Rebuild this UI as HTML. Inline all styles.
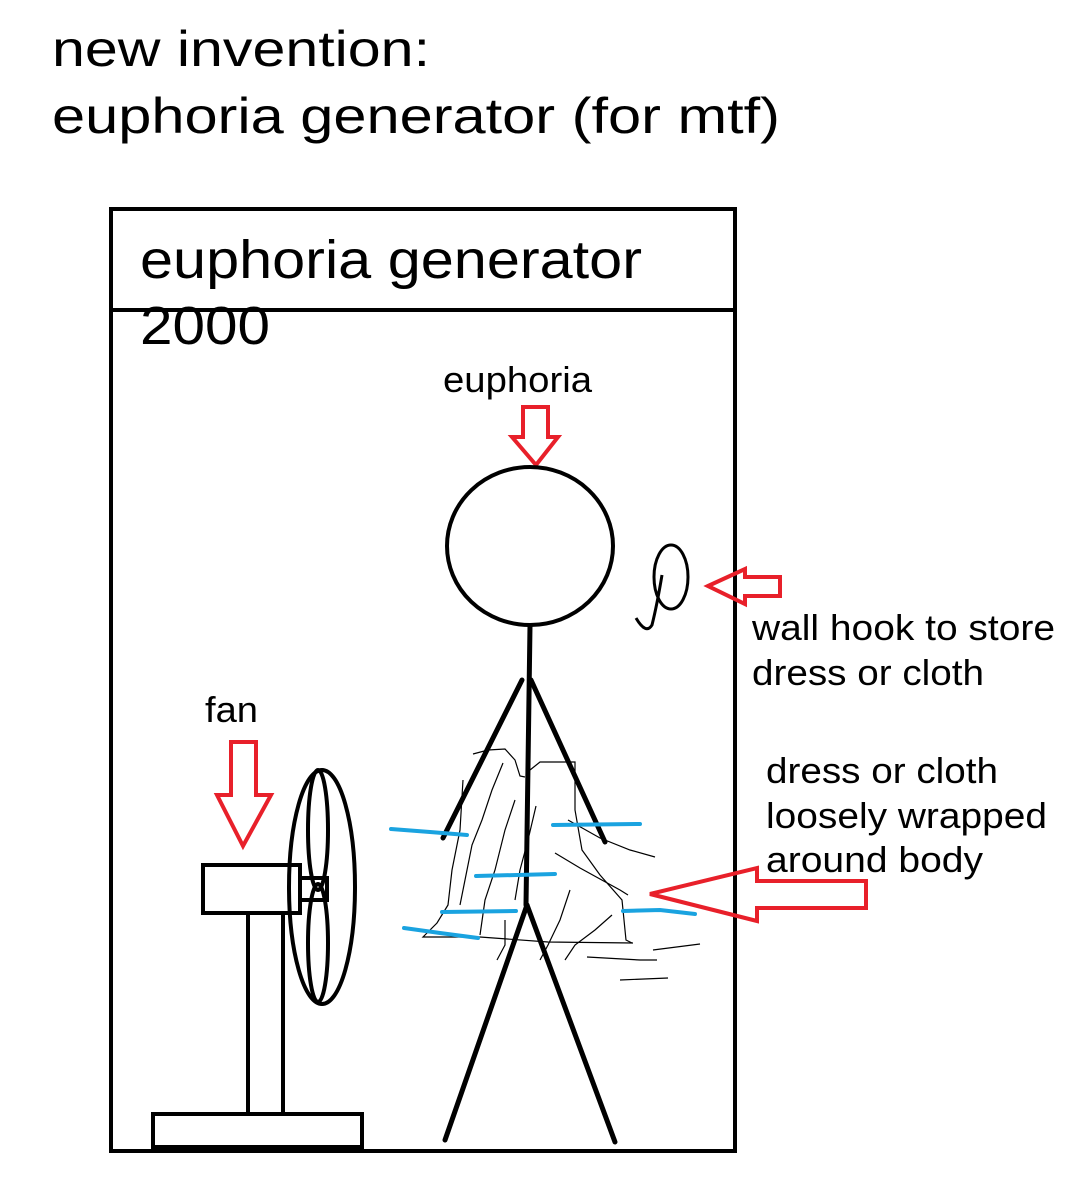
<!DOCTYPE html>
<html><head><meta charset="utf-8"><style>
html,body{margin:0;padding:0;background:#fff;}
svg{display:block}
text{font-family:"Liberation Sans",sans-serif;fill:#000}
</style></head><body>
<svg width="1086" height="1200" viewBox="0 0 1086 1200" xmlns="http://www.w3.org/2000/svg">
<rect width="1086" height="1200" fill="#fff"/>
<text x="52" y="66" font-size="50" textLength="378" lengthAdjust="spacingAndGlyphs">new invention:</text>
<text x="52" y="133" font-size="50" textLength="728" lengthAdjust="spacingAndGlyphs">euphoria generator (for mtf)</text>

<rect x="111" y="209" width="624" height="942" fill="none" stroke="#000" stroke-width="4"/>
<line x1="111" y1="310" x2="735" y2="310" stroke="#000" stroke-width="4"/>
<text x="140" y="278" font-size="54" textLength="502" lengthAdjust="spacingAndGlyphs">euphoria generator</text>
<text x="140" y="344" font-size="54" textLength="130" lengthAdjust="spacingAndGlyphs">2000</text>

<text x="443" y="392" font-size="36" textLength="149" lengthAdjust="spacingAndGlyphs">euphoria</text>
<polygon points="523,407 548,407 548,437 558,437 536,465 512,437 523,437" fill="none" stroke="#e8202a" stroke-width="4"/>

<ellipse cx="530" cy="546" rx="83" ry="79" fill="none" stroke="#000" stroke-width="4"/>
<g stroke="#000" stroke-width="5" stroke-linecap="round" fill="none">
<line x1="530" y1="626" x2="526" y2="905"/>
<line x1="522" y1="680" x2="443" y2="838"/>
<line x1="531" y1="680" x2="605" y2="842"/>
<line x1="527" y1="905" x2="445" y2="1140"/>
<line x1="527" y1="905" x2="615" y2="1142"/>
</g>

<g stroke="#000" stroke-width="1.2" fill="none">
<polyline points="473,754 488,750 505,749 515,760 520,776 525,777"/>
<polyline points="530,770 540,762 575,762 575,810 582,850 600,875 622,900 626,940 632,943"/>
<polyline points="463,780 460,830 452,870 448,905 437,923 423,937 480,937 548,942 633,943"/>
<polyline points="503,763 492,790 482,820 472,845 465,880 460,905"/>
<polyline points="515,800 505,830 495,870 485,900 480,935"/>
<polyline points="536,806 528,840 520,870 515,900"/>
<polyline points="555,853 580,868 620,890 628,895"/>
<polyline points="568,820 600,838 630,850 655,857"/>
<polyline points="570,890 560,920 548,945 540,960"/>
<polyline points="612,915 595,930 575,945 565,960"/>
<polyline points="587,957 640,960 657,960"/>
<polyline points="653,950 700,944"/>
<polyline points="620,980 668,978"/>
<polyline points="505,920 505,945 497,960"/>
</g>
<g stroke="#1aa3e0" stroke-width="4" stroke-linecap="round" fill="none">
<polyline points="391,829 430,832 467,835"/>
<polyline points="553,825 640,824"/>
<polyline points="476,876 555,874"/>
<polyline points="442,912 516,911"/>
<polyline points="404,928 440,933 478,938"/>
<polyline points="623,911 660,910 695,914"/>
</g>

<ellipse cx="671" cy="577" rx="17" ry="32" fill="none" stroke="#000" stroke-width="3"/>
<path d="M662,575 Q657,605 652,625 Q646,635 636,618" fill="none" stroke="#000" stroke-width="3"/>
<polygon points="708,586 745,569 745,577 780,577 780,596 745,596 745,604" fill="none" stroke="#e8202a" stroke-width="4"/>
<text x="752" y="640" font-size="36" textLength="303" lengthAdjust="spacingAndGlyphs">wall hook to store</text>
<text x="752" y="685" font-size="36" textLength="232" lengthAdjust="spacingAndGlyphs">dress or cloth</text>

<text x="766" y="783" font-size="36" textLength="232" lengthAdjust="spacingAndGlyphs">dress or cloth</text>
<text x="766" y="828" font-size="36" textLength="281" lengthAdjust="spacingAndGlyphs">loosely wrapped</text>
<text x="766" y="872" font-size="36" textLength="217" lengthAdjust="spacingAndGlyphs">around body</text>
<polygon points="650,894 757,868 757,881 866,881 866,908 757,908 757,921" fill="none" stroke="#e8202a" stroke-width="4"/>

<text x="205" y="722" font-size="36" textLength="53" lengthAdjust="spacingAndGlyphs">fan</text>
<polygon points="231,742 256,742 256,795 271,795 243,846 217,795 231,795" fill="none" stroke="#e8202a" stroke-width="4"/>
<g stroke="#000" stroke-width="4" fill="none">
<rect x="203" y="865" width="97" height="48"/>
<rect x="248" y="913" width="35" height="201"/>
<rect x="153" y="1114" width="209" height="33"/>
<rect x="300" y="878" width="27" height="22"/>
<ellipse cx="322" cy="887" rx="33" ry="117"/>
<ellipse cx="318" cy="830" rx="10" ry="60"/>
<ellipse cx="318" cy="943" rx="10" ry="59"/>
</g>
</svg>
</body></html>
